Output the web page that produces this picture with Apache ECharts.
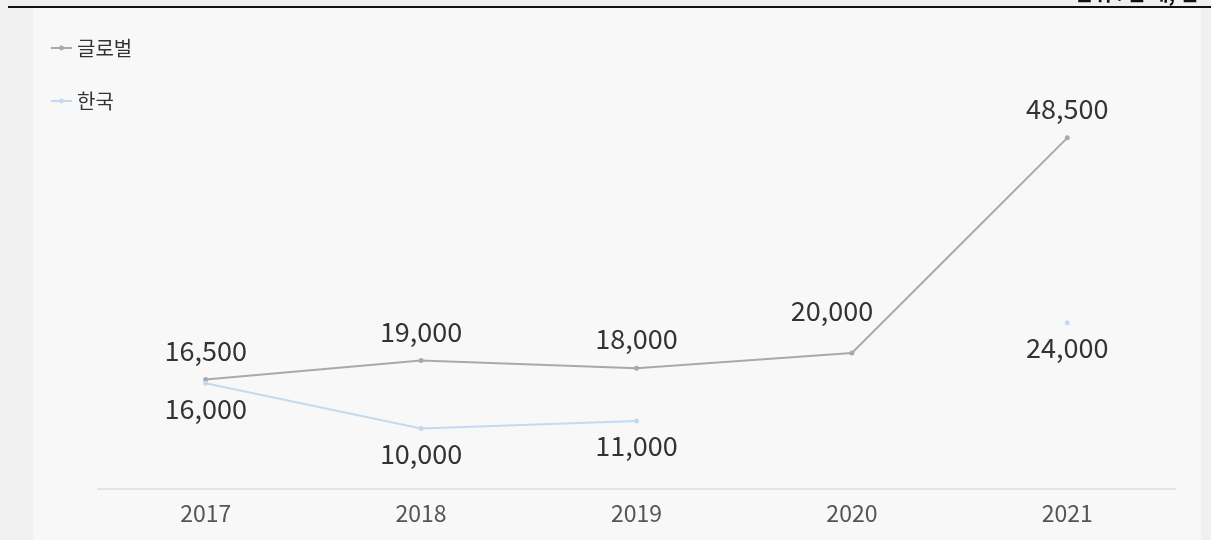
<!DOCTYPE html>
<html>
<head>
<meta charset="utf-8">
<script src="https://cdn.jsdelivr.net/npm/echarts@6/dist/echarts.min.js"></script>
<style>
    html, body { margin: 0; padding: 0; background: #f0f0f0; }
    #panel { position: absolute; left: 33px; top: 8px; width: 1168px; height: 532px; background: #f8f8f8; }
    #topline { position: absolute; left: 8px; top: 6px; width: 1203px; height: 2px; background: #111; }
    #main { position: absolute; left: 0; top: 0; width: 1211px; height: 540px; }
</style>
</head>
<body>
<div id="panel"></div>
<div id="topline"></div>
<div id="main"></div>
<script>
    var years = ['2017', '2018', '2019', '2020', '2021'];
    var globalVals = [16500, 19000, 18000, 20000, 48500];
    var koreaVals = [16000, 10000, 11000, null, 24000];
    var seriesNames = ['글로벌', '한국'];

    var font = '"Noto Sans CJK KR", "Noto Sans", sans-serif';

    // 2020 label of the global line sits a bit up-left in the original
    var globalData = globalVals.map(function (v, i) {
        if (years[i] === '2020') {
            return { value: v, label: { offset: [-20, -13] } };
        }
        return v;
    });

    var myChart = echarts.init(document.getElementById('main'));
    var option = {
        backgroundColor: 'transparent',
        textStyle: { fontFamily: font },
        graphic: [
            {
                type: 'text',
                style: {
                    text: '단위 : 만 대, 건',
                    x: 1198,
                    y: 3,
                    align: 'right',
                    verticalAlign: 'bottom',
                    font: 'bold 20px "Noto Sans CJK KR"',
                    fill: '#111'
                }
            }
        ],
        legend: {
            orient: 'vertical',
            left: 45,
            top: 33,
            itemWidth: 21,
            itemHeight: 6,
            itemGap: 33,
            data: seriesNames,
            textStyle: { fontSize: 20, lineHeight: 20, color: '#333', fontFamily: font }
        },
        grid: { left: 98, right: 36, top: 51, bottom: 51 },
        xAxis: {
            type: 'category',
            data: years,
            boundaryGap: true,
            axisLine: { lineStyle: { color: '#e4e4e4', width: 2 } },
            axisTick: { show: false },
            axisLabel: { fontSize: 23, color: '#555', margin: 13, fontFamily: font }
        },
        yAxis: {
            type: 'value',
            min: 2000,
            max: 60000,
            show: false,
            splitLine: { show: false }
        },
        series: [
            {
                name: seriesNames[0],
                type: 'line',
                data: globalData,
                symbol: 'circle',
                symbolSize: 5,
                color: '#a9a9a9',
                lineStyle: { width: 2, color: '#a9a9a9' },
                label: {
                    show: true,
                    position: 'top',
                    distance: 13,
                    fontSize: 27,
                    color: '#333',
                    fontFamily: font,
                    formatter: function (p) { return p.value.toLocaleString('en-US'); }
                }
            },
            {
                name: seriesNames[1],
                type: 'line',
                data: koreaVals,
                symbol: 'circle',
                symbolSize: 5,
                color: '#c3daf0',
                lineStyle: { width: 2, color: '#c3daf0' },
                label: {
                    show: true,
                    position: 'bottom',
                    distance: 9,
                    fontSize: 27,
                    color: '#333',
                    fontFamily: font,
                    formatter: function (p) { return p.value.toLocaleString('en-US'); }
                }
            }
        ]
    };

    myChart.setOption(option);
</script>
</body>
</html>
